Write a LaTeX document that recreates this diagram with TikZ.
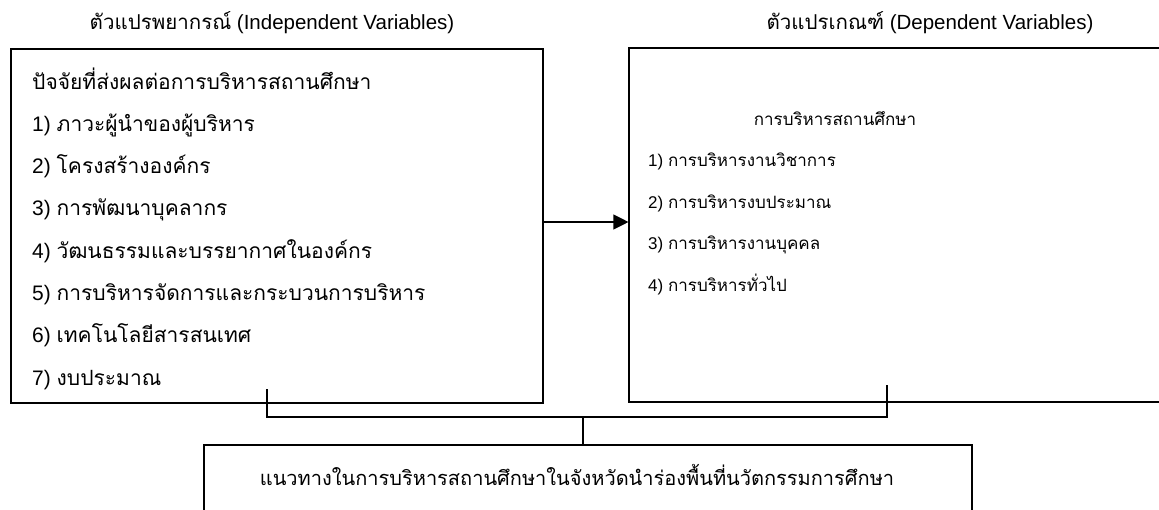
\documentclass[tikz,border=0pt]{standalone}
\usepackage{fontspec}
\setmainfont{Liberation Sans}
\newfontfamily\thai[Script=Thai]{Loma}
\usetikzlibrary{arrows.meta}
\newcommand{\thx}[1]{{\thai #1}}
\begin{document}
\begin{tikzpicture}[x=1pt,y=-1pt,
  box/.style={draw, line width=1.1pt, inner sep=0pt},
  txt/.style={inner sep=0pt, anchor=base},
  big/.style={txt, font=\fontsize{21}{24}\selectfont},
  hdr/.style={txt, font=\fontsize{20.5}{24}\selectfont},
  bot/.style={txt, font=\fontsize{20}{24}\selectfont},
  sml/.style={txt, font=\fontsize{17}{20}\selectfont},
  lst/.style={big, anchor=base west},
  rlst/.style={sml, anchor=base west},
  ln/.style={line width=1.1pt},
  arr/.style={line width=1.1pt, -{Triangle[length=15pt,width=15pt]}}]
\useasboundingbox (0,0) rectangle (1159,509);
\clip (0,0) rectangle (1159,509);
% boxes
\node[box, minimum width=532pt, minimum height=354pt] (L) at (277,226) {};
\node[box, minimum width=608pt, minimum height=354pt] (R) at (933,225) {};
\node[box, minimum width=768pt, minimum height=100pt] (B) at (588,495) {};
% headers
\node[hdr] (hl) at (272,29) {\thx{ตัวแปรพยากรณ์} (Independent Variables)};
\node[hdr] (hr) at (930,29) {\thx{ตัวแปรเกณฑ์} (Dependent Variables)};
% left list
\node[lst] (l0) at (32,89) {\thx{ปัจจัยที่ส่งผลต่อการบริหารสถานศึกษา}};
\node[lst] (l1) at (32,131.3) {1) \thx{ภาวะผู้นำของผู้บริหาร}};
\node[lst] (l2) at (32,173.6) {2) \thx{โครงสร้างองค์กร}};
\node[lst] (l3) at (32,215.9) {3) \thx{การพัฒนาบุคลากร}};
\node[lst] (l4) at (32,258.2) {4) \thx{วัฒนธรรมและบรรยากาศในองค์กร}};
\node[lst] (l5) at (32,300.5) {5) \thx{การบริหารจัดการและกระบวนการบริหาร}};
\node[lst] (l6) at (32,342.8) {6) \thx{เทคโนโลยีสารสนเทศ}};
\node[lst] (l7) at (32,385) {7) \thx{งบประมาณ}};
% right list
\node[sml] (r0) at (835,125) {\thx{การบริหารสถานศึกษา}};
\node[rlst] (r1) at (648,166.5) {1) \thx{การบริหารงานวิชาการ}};
\node[rlst] (r2) at (648,208) {2) \thx{การบริหารงบประมาณ}};
\node[rlst] (r3) at (648,249.5) {3) \thx{การบริหารงานบุคคล}};
\node[rlst] (r4) at (648,291) {4) \thx{การบริหารทั่วไป}};
% bottom text
\node[bot] (b0) at (577,485) {\thx{แนวทางในการบริหารสถานศึกษาในจังหวัดนำร่องพื้นที่นวัตกรรมการศึกษา}};
% arrow
\draw[arr] ([yshift=4pt]L.east) -- ([yshift=4pt]L.east -| R.west);
% bracket
\coordinate (bl) at (267,389);
\coordinate (br) at (887,385);
\coordinate (bm) at (583,417);
\draw[ln] (bl) |- (bm) -| (br);
\draw[ln] (bm) -- (bm |- B.north);
\end{tikzpicture}
\end{document}
